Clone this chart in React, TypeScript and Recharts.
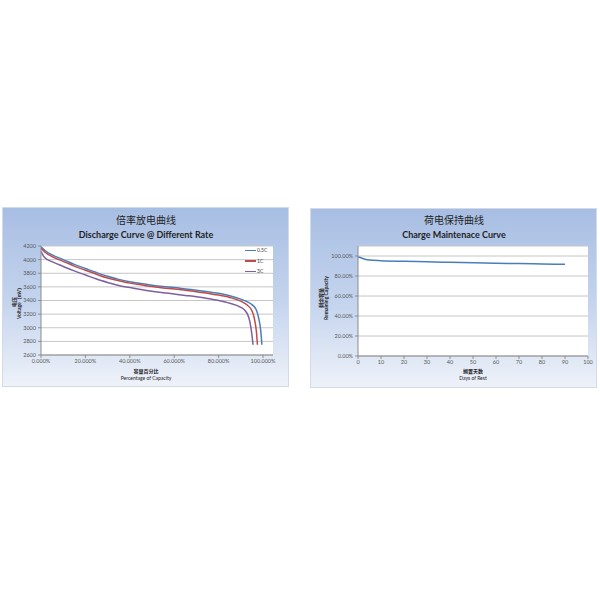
import React from "react";
import { LineChart, Line, XAxis, YAxis, CartesianGrid } from "recharts";

// discharge curves: capacity fraction vs voltage (mV)
const capacity05 = [0, 0.02, 0.05, 0.1, 0.15, 0.2, 0.25, 0.3, 0.35, 0.4, 0.45, 0.5, 0.55, 0.6, 0.65, 0.7, 0.75, 0.8, 0.85, 0.9, 0.93, 0.95, 0.97, 0.98, 0.99, 0.995];
const voltage05 = [4190, 4130, 4070, 4000, 3930, 3870, 3810, 3755, 3710, 3675, 3650, 3625, 3605, 3590, 3570, 3550, 3530, 3505, 3470, 3420, 3380, 3340, 3260, 3150, 2950, 2750];

const capacity1 = [0, 0.02, 0.05, 0.1, 0.15, 0.2, 0.25, 0.3, 0.35, 0.4, 0.45, 0.5, 0.55, 0.6, 0.65, 0.7, 0.75, 0.8, 0.85, 0.9, 0.93, 0.95, 0.96, 0.97, 0.975];
const voltage1 = [4170, 4105, 4045, 3975, 3905, 3845, 3785, 3730, 3690, 3655, 3630, 3605, 3585, 3570, 3550, 3530, 3505, 3480, 3445, 3390, 3330, 3250, 3150, 2950, 2750];

const capacity3 = [0, 0.01, 0.02, 0.05, 0.1, 0.15, 0.2, 0.25, 0.3, 0.35, 0.4, 0.45, 0.5, 0.55, 0.6, 0.65, 0.7, 0.75, 0.8, 0.85, 0.9, 0.92, 0.93, 0.94, 0.95, 0.955];
const voltage3 = [4120, 4060, 4020, 3970, 3900, 3835, 3775, 3715, 3665, 3620, 3590, 3560, 3535, 3515, 3495, 3475, 3455, 3430, 3400, 3360, 3300, 3250, 3200, 3100, 2900, 2750];

const rateNames = ["0.5C", "1C", "3C"];
const rateColors = ["#4a7ebb", "#be4b48", "#7d60a0"];

const voltageTicks = [2600, 2800, 3000, 3200, 3400, 3600, 3800, 4000, 4200];
const capacityTicks = [0, 0.2, 0.4, 0.6, 0.8, 1];

// charge maintenance: days of rest vs remaining capacity
const restDays = [0, 1, 2, 3, 5, 10, 20, 30, 40, 50, 60, 70, 80, 90];
const remaining = [0.99, 0.985, 0.975, 0.968, 0.96, 0.953, 0.947, 0.942, 0.937, 0.933, 0.928, 0.924, 0.92, 0.917];
const dayTicks = [0, 10, 20, 30, 40, 50, 60, 70, 80, 90, 100];
const remainingTicks = [0, 0.2, 0.4, 0.6, 0.8, 1];

const toPoints = (xs: number[], ys: number[]) => xs.map((x, i) => ({ x, y: ys[i] }));

const series = [
  toPoints(capacity05, voltage05),
  toPoints(capacity1, voltage1),
  toPoints(capacity3, voltage3),
];
const maintenance = toPoints(restDays, remaining);

const latin = "Lato, 'Noto Sans CJK SC', sans-serif";
const cjk = "'Noto Sans CJK SC', sans-serif";
const tickStyle = { fontSize: 5.5, fill: "#595959", fontFamily: latin };

const panelStyle: React.CSSProperties = {
  position: "absolute",
  width: 287,
  height: 180,
  background: "linear-gradient(to bottom, #a7bee3 0%, #c6d5ee 55%, #eef2f9 100%)",
  border: "1px solid #d3dbe8",
  boxSizing: "border-box",
};

const Text: React.FC<{ x: number; y: number; size: number; bold?: boolean; font?: string; rotate?: boolean; children: React.ReactNode }> = ({ x, y, size, bold, font, rotate, children }) => (
  <div
    style={{
      position: "absolute",
      left: x,
      top: y,
      transform: `translate(-50%, -50%)${rotate ? " rotate(-90deg)" : ""}`,
      fontSize: size,
      fontWeight: bold ? 700 : 400,
      fontFamily: font || latin,
      color: "#1f1f1f",
      whiteSpace: "nowrap",
      lineHeight: 1,
      zIndex: 2,
    }}
  >
    {children}
  </div>
);

const RateLegend = () => (
  <div style={{ position: "absolute", left: 242, top: 37, fontFamily: latin, fontSize: 5, color: "#404040", zIndex: 2 }}>
    {rateNames.map((name, i) => (
      <div key={name} style={{ display: "flex", alignItems: "center", height: 10.5 }}>
        <span style={{ display: "inline-block", width: 11, height: 1.5, background: rateColors[i], marginRight: 1 }} />
        <span>{name}</span>
      </div>
    ))}
  </div>
);

const App = () => (
  <div style={{ position: "absolute", left: 0, top: 0, width: 600, height: 600, background: "#fff" }}>
    <div style={{ ...panelStyle, left: 2, top: 207 }}>
      <LineChart width={287} height={180} margin={{ top: 38, right: 17, left: 0, bottom: 17 }}>
        <CartesianGrid vertical={false} stroke="#c6c6c6" fill="#ffffff" />
        <XAxis
          type="number"
          dataKey="x"
          domain={[0, 1.045]}
          ticks={capacityTicks}
          interval={0}
          tickFormatter={(v: number) => `${(v * 100).toFixed(3)}%`}
          tick={tickStyle}
          stroke="#8c8c8c"
          tickSize={3}
          tickMargin={1}
          height={16}
          allowDataOverflow
        />
        <YAxis
          type="number"
          dataKey="y"
          domain={[2600, 4200]}
          ticks={voltageTicks}
          interval={0}
          tick={tickStyle}
          stroke="#8c8c8c"
          tickSize={3}
          tickMargin={2}
          width={38}
          allowDataOverflow
        />
        {series.map((pts, i) => (
          <Line
            key={rateNames[i]}
            data={pts}
            dataKey="y"
            name={rateNames[i]}
            type="monotone"
            stroke={rateColors[i]}
            strokeWidth={1.5}
            dot={false}
            isAnimationActive={false}
          />
        ))}
      </LineChart>
      <RateLegend />
      <Text x={143} y={12} size={10} font={cjk}>倍率放电曲线</Text>
      <Text x={143} y={26} size={9} bold>Discharge Curve @ Different Rate</Text>
      <Text x={143} y={162} size={5} bold font={cjk}>容量百分比</Text>
      <Text x={143} y={170} size={5}>Percentage of Capacity</Text>
      <Text x={10} y={94} size={5} bold font={cjk} rotate>电压</Text>
      <Text x={16} y={94} size={5} bold rotate>Voltage（mV）</Text>
    </div>

    <div style={{ ...panelStyle, left: 310, top: 208 }}>
      <LineChart width={287} height={180} margin={{ top: 37, right: 10, left: 0, bottom: 17 }}>
        <CartesianGrid vertical={false} stroke="#c6c6c6" fill="#ffffff" />
        <XAxis
          type="number"
          dataKey="x"
          domain={[0, 100]}
          ticks={dayTicks}
          interval={0}
          tick={tickStyle}
          stroke="#8c8c8c"
          tickSize={3}
          tickMargin={1}
          height={16}
        />
        <YAxis
          type="number"
          dataKey="y"
          domain={[0, 1.1]}
          ticks={remainingTicks}
          interval={0}
          tickFormatter={(v: number) => `${(v * 100).toFixed(2)}%`}
          tick={tickStyle}
          stroke="#8c8c8c"
          tickSize={3}
          tickMargin={2}
          width={47}
        />
        <Line
          data={maintenance}
          dataKey="y"
          type="monotone"
          stroke="#4a7ebb"
          strokeWidth={1.5}
          dot={false}
          isAnimationActive={false}
        />
      </LineChart>
      <Text x={143} y={11} size={10} font={cjk}>荷电保持曲线</Text>
      <Text x={143} y={25} size={9} bold>Charge Maintenace Curve</Text>
      <Text x={162} y={161} size={5} bold font={cjk}>搁置天数</Text>
      <Text x={162} y={169} size={5}>Days of Rest</Text>
      <Text x={9} y={89} size={5} bold font={cjk} rotate>剩余容量</Text>
      <Text x={15} y={89} size={5} bold rotate>Remaining Capacity</Text>
    </div>
  </div>
);

export default App;
